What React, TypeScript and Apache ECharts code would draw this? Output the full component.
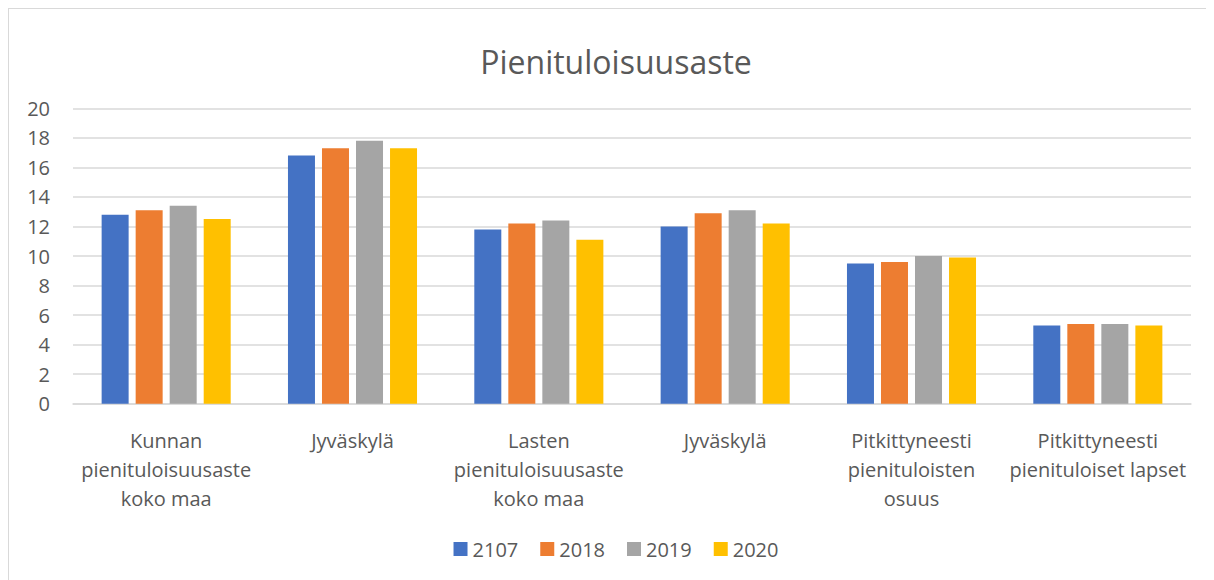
import React, { useEffect, useRef } from "react";
import * as echarts from "echarts";

const categories = [
  "Kunnan\npienituloisuusaste\nkoko maa",
  "Jyväskylä",
  "Lasten\npienituloisuusaste\nkoko maa",
  "Jyväskylä",
  "Pitkittyneesti\npienituloisten\nosuus",
  "Pitkittyneesti\npienituloiset lapset",
];
const seriesNames = ["2107", "2018", "2019", "2020"];
const values2107 = [12.8, 16.8, 11.8, 12.0, 9.5, 5.3];
const values2018 = [13.1, 17.3, 12.2, 12.9, 9.6, 5.4];
const values2019 = [13.4, 17.8, 12.4, 13.1, 10.0, 5.4];
const values2020 = [12.5, 17.3, 11.1, 12.2, 9.9, 5.3];
const colors = ["#4472C4", "#ED7D31", "#A5A5A5", "#FFC000"];

const FONT = "'Open Sans', 'Noto Sans', sans-serif";

export default function App() {
  const ref = useRef<HTMLDivElement>(null);
  useEffect(() => {
    document.body.style.overflow = "hidden";
    if (!ref.current) return;
    const chart = echarts.init(ref.current, undefined, { renderer: "svg" });
    const all = [values2107, values2018, values2019, values2020];
    chart.setOption({
      animation: false,
      backgroundColor: "#ffffff",
      textStyle: { fontFamily: FONT },
      title: {
        text: "Pienituloisuusaste",
        left: "center",
        top: 31,
        textStyle: { fontFamily: FONT, fontSize: 32, fontWeight: "normal", color: "#595959" },
      },
      legend: {
        data: seriesNames,
        left: "center",
        top: 525,
        itemWidth: 14,
        itemHeight: 14,
        itemGap: 22,
        icon: "rect",
        textStyle: { fontFamily: FONT, fontSize: 20, color: "#595959", lineHeight: 20 },
      },
      grid: { left: 64, top: 99.3, width: 1118, height: 295.4, containLabel: false },
      xAxis: {
        type: "category",
        data: categories,
        axisLine: { show: true, lineStyle: { color: "#D9D9D9", width: 1.5 } },
        axisTick: { show: false },
        axisLabel: {
          interval: 0,
          margin: 22,
          fontFamily: FONT,
          fontSize: 20,
          lineHeight: 29,
          color: "#595959",
          align: "center",
        },
      },
      yAxis: {
        type: "value",
        min: 0,
        max: 20,
        interval: 2,
        axisLine: { show: false },
        axisTick: { show: false },
        splitLine: { lineStyle: { color: "#D9D9D9", width: 1.5 } },
        axisLabel: { margin: 23, fontFamily: FONT, fontSize: 20, color: "#595959" },
      },
      series: seriesNames.map((name, i) => ({
        name,
        type: "bar",
        data: all[i],
        barWidth: 27,
        barGap: "26%",
        itemStyle: { color: colors[i] },
      })),
    });
    return () => chart.dispose();
  }, []);
  return (
    <div
      style={{
        borderTop: "1px solid #D9D9D9",
        borderLeft: "1px solid #D9D9D9",
        width: 1214,
        height: 590,
        background: "#fff",
      }}
    >
      <div ref={ref} style={{ width: 1214, height: 590 }} />
    </div>
  );
}
